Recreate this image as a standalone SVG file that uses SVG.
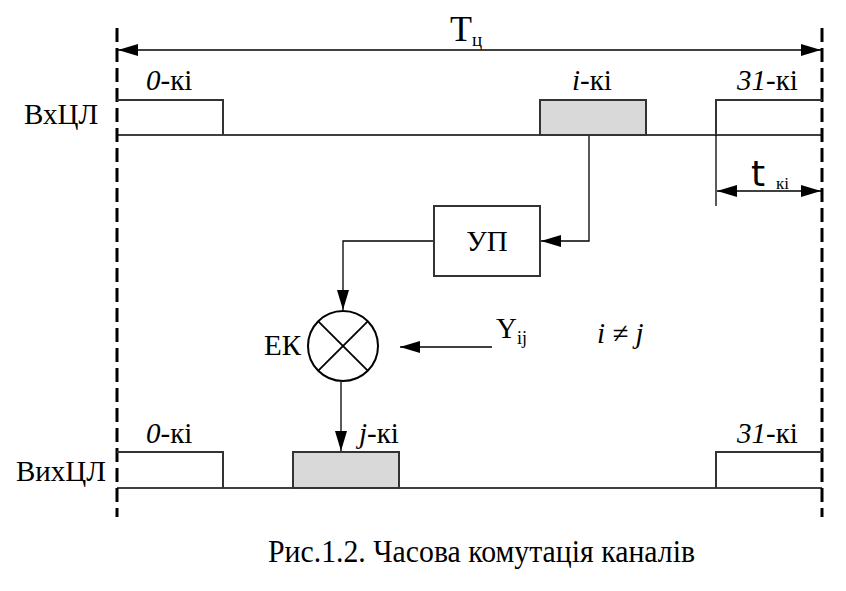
<svg xmlns="http://www.w3.org/2000/svg" width="846" height="591" viewBox="0 0 846 591">
<defs>
<marker id="ahb" viewBox="0 0 20 12" refX="20" refY="6" markerWidth="20" markerHeight="12" markerUnits="userSpaceOnUse" orient="auto-start-reverse">
<path d="M0,0 L20,6 L0,12 z" fill="#000"/>
</marker>
</defs>
<style>
text{font-family:"Liberation Serif","Times New Roman",serif;fill:#000}
.lbl{font-size:29px}
.it{font-style:italic}
.line{stroke:#000;stroke-width:1.3;fill:none}
.pulse{stroke:#333;stroke-width:2;fill:none}
.shade{stroke:#333;stroke-width:2;fill:#d9d9d9}
.dash{stroke:#000;stroke-width:3;stroke-dasharray:14 6;fill:none}
</style>
<rect width="846" height="591" fill="#fff"/>

<g id="frame">
<line class="dash" x1="117" y1="28" x2="117" y2="517"/>
<line class="dash" x1="822" y1="28" x2="822" y2="517"/>
</g>

<g id="connectors">
<line class="line" x1="118" y1="50" x2="821" y2="50" marker-start="url(#ahb)" marker-end="url(#ahb)"/>
<line class="line" x1="716" y1="135" x2="716" y2="206"/>
<line class="line" x1="717" y1="191" x2="821" y2="191" marker-start="url(#ahb)" marker-end="url(#ahb)"/>
<polyline class="line" points="589,135 589,241 541,241" marker-end="url(#ahb)"/>
<polyline class="line" points="434,241 343,241 343,310" marker-end="url(#ahb)"/>
<line class="line" x1="492" y1="347" x2="400" y2="347" marker-end="url(#ahb)"/>
<line class="line" x1="341" y1="382" x2="341" y2="451" marker-end="url(#ahb)"/>
</g>

<g id="input-line">
<line class="line" x1="117" y1="135" x2="822" y2="135"/>
<polyline class="pulse" points="117,100 223,100 223,135"/>
<rect class="shade" x="540" y="100" width="106" height="35"/>
<polyline class="pulse" points="716,135 716,100 822,100"/>
<text class="lbl" x="24" y="124">ВхЦЛ</text>
<text class="lbl" x="146" y="90"><tspan class="it">0</tspan>-кі</text>
<text class="lbl" x="572" y="90"><tspan class="it">i</tspan>-кі</text>
<text class="lbl" x="737" y="90"><tspan class="it">31</tspan>-кі</text>
</g>

<g id="period">
<text x="450" y="41" font-size="36">T<tspan font-size="19" dy="5">ц</tspan></text>
<text x="751" y="186" font-size="36" style="font-family:'DejaVu Sans',sans-serif">t</text>
<text x="776" y="189" font-size="17">кі</text>
</g>

<g id="up">
<rect x="434" y="206" width="106" height="70" fill="#fff" stroke="#333" stroke-width="2"/>
<text class="lbl" x="487" y="251" text-anchor="middle">УП</text>
</g>

<g id="ek">
<circle cx="343" cy="346" r="35" fill="#fff" stroke="#000" stroke-width="2"/>
<line x1="318.3" y1="321.3" x2="367.7" y2="370.7" stroke="#000" stroke-width="1.8"/>
<line x1="367.7" y1="321.3" x2="318.3" y2="370.7" stroke="#000" stroke-width="1.8"/>
<text class="lbl" x="264" y="355">ЕК</text>
</g>

<g id="control">
<text class="lbl" x="496" y="338">Y<tspan font-size="18" dy="6">ij</tspan></text>
<text class="lbl it" x="597" y="343">i ≠ j</text>
</g>

<g id="output-line">
<line class="line" x1="117" y1="488" x2="822" y2="488"/>
<polyline class="pulse" points="117,452 223,452 223,488"/>
<rect class="shade" x="293" y="452" width="106" height="36"/>
<polyline class="pulse" points="716,488 716,452 822,452"/>
<text class="lbl" x="16" y="481">ВихЦЛ</text>
<text class="lbl" x="146" y="443"><tspan class="it">0</tspan>-кі</text>
<text class="lbl" x="359" y="443"><tspan class="it">j</tspan>-кі</text>
<text class="lbl" x="737" y="443"><tspan class="it">31</tspan>-кі</text>
</g>

<text x="268" y="562" font-size="31" textLength="427" lengthAdjust="spacingAndGlyphs">Рис.1.2. Часова комутація каналів</text>
</svg>
